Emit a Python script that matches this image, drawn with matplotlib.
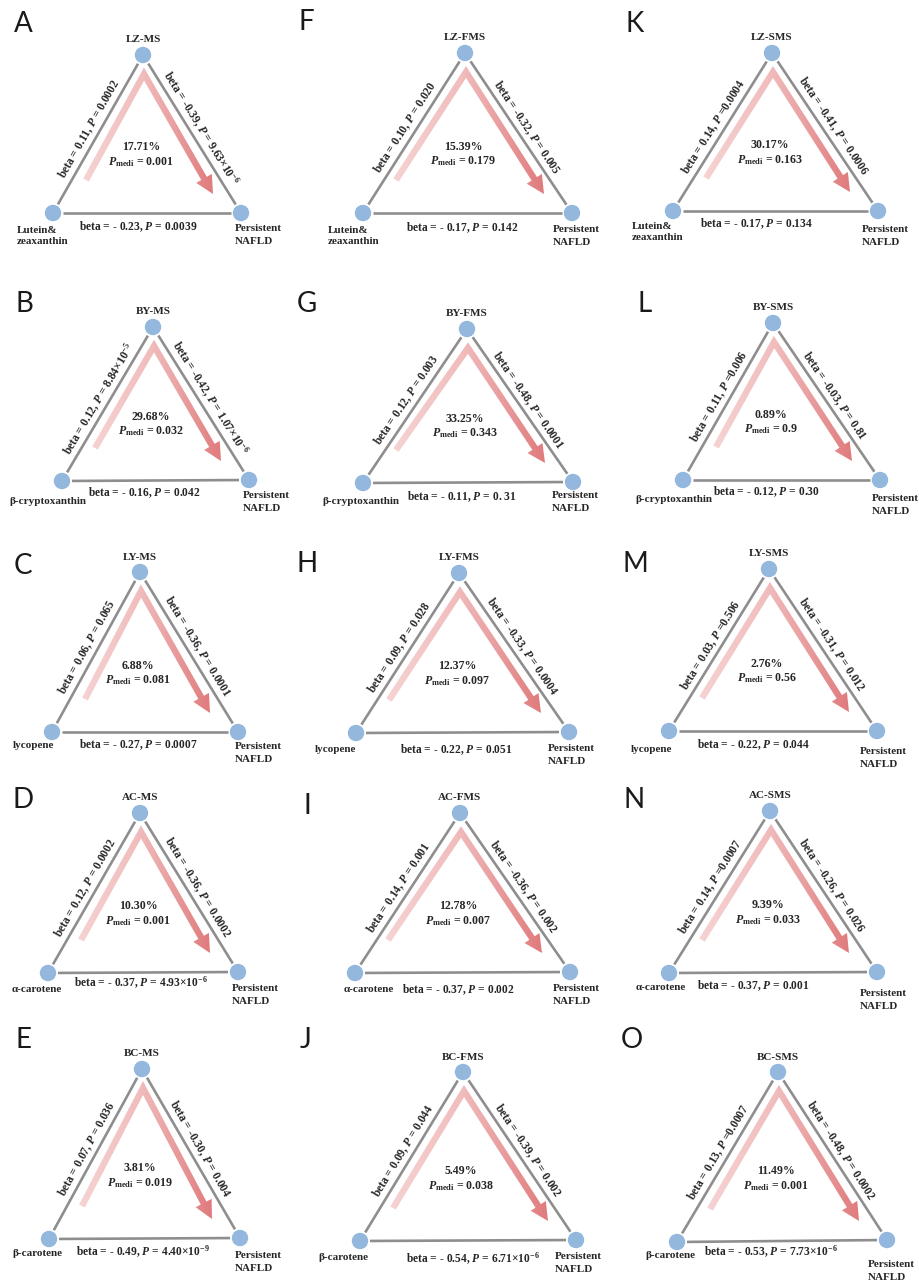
import re
import numpy as np
import matplotlib
matplotlib.use("Agg")
import matplotlib.pyplot as plt
from matplotlib.patches import Circle, Polygon
from matplotlib.colors import LinearSegmentedColormap

plt.rcParams['font.family'] = ['Liberation Serif', 'DejaVu Serif']
plt.rcParams['font.weight'] = 'bold'
plt.rcParams['mathtext.fontset'] = 'custom'
plt.rcParams['mathtext.rm'] = 'Liberation Serif:bold'
plt.rcParams['mathtext.it'] = 'Liberation Serif:italic:bold'
plt.rcParams['mathtext.bf'] = 'Liberation Serif:bold'

# ---------------- data ----------------
panel_letters = list("ABCDEFGHIJKLMNO")
mediators = ["LZ-MS", "BY-MS", "LY-MS", "AC-MS", "BC-MS",
             "LZ-FMS", "BY-FMS", "LY-FMS", "AC-FMS", "BC-FMS",
             "LZ-SMS", "BY-SMS", "LY-SMS", "AC-SMS", "BC-SMS"]
exposures = ["Lutein&\nzeaxanthin", "β-cryptoxanthin", "lycopene", "α-carotene", "β-carotene"] * 3
outcome = "Persistent\nNAFLD"
# exposure -> mediator
a_beta = ["0.11", "0.12", "0.06", "0.12", "0.07",
          "0.10", "0.12", "0.09", "0.14", "0.09",
          "0.14", "0.11", "0.03", "0.14", "0.13"]
a_p = ["= 0.0002", "= 8.84e-5", "= 0.065", "= 0.0002", "= 0.036",
       "= 0.020", "= 0.003", "= 0.028", "= 0.001", "= 0.044",
       "=0.0004", "=0.006", "=0.506", "=0.0007", "=0.0007"]
# mediator -> outcome
b_beta = ["-0.39", "-0.42", "-0.36", "-0.36", "-0.30",
          "-0.32", "-0.48", "-0.33", "-0.36", "-0.39",
          "-0.41", "-0.03", "-0.31", "-0.26", "-0.48"]
b_p = ["9.63e-6", "1.07e-6", "0.0001", "0.0002", "0.004",
       "0.005", "0.0001", "0.0004", "0.002", "0.002",
       "0.0006", "0.81", "0.012", "0.026", "0.0002"]
# exposure -> outcome
c_beta = ["-0.23", "-0.16", "-0.27", "-0.37", "-0.49",
          "-0.17", "-0.11", "-0.22", "-0.37", "-0.54",
          "-0.17", "-0.12", "-0.22", "-0.37", "-0.53"]
c_p = ["0.0039", "0.042", "0.0007", "4.93e-6", "4.40e-9",
       "0.142", "0. 31", "0.051", "0.002", "6.71e-6",
       "0.134", "0.30", "0.044", "0.001", "7.73e-6"]
prop_mediated = ["17.71", "29.68", "6.88", "10.30", "3.81",
                 "15.39", "33.25", "12.37", "12.78", "5.49",
                 "30.17", "0.89", "2.76", "9.39", "11.49"]
p_medi = ["0.001", "0.032", "0.081", "0.001", "0.019",
          "0.179", "0.343", "0.097", "0.007", "0.038",
          "0.163", "0.9", "0.56", "0.033", "0.001"]

# ---------------- layout (pixel coordinates) ----------------
# top node, left node, right node, letter centre, exposure label offset, outcome label offset, bottom label offset
layout = [
    ((143, 55), (53, 213), (241, 213), (23, 22), (-36, 23), (-6, 17), (-9, 14)),
    ((153, 327), (62, 481), (249, 480), (24, 302), (-14, 21), (-6, 17), (-11, 12)),
    ((140, 572), (52, 732), (238, 732), (23, 565), (-19, 13), (-3, 16), (-7, 13)),
    ((140, 813), (48, 973), (238, 972), (23, 798), (-11, 16), (-6, 18), (-2, 10)),
    ((142, 1069), (49, 1239), (240, 1238), (23, 1038), (-12, 15), (-5, 19), (-2, 13)),
    ((465, 53), (363, 213), (572, 213), (306, 21), (-35, 23), (-19, 18), (-5, 15)),
    ((467, 329), (363, 483), (573, 482), (307, 302), (-2, 19), (-21, 15), (-6, 14)),
    ((459, 573), (356, 733), (569, 732), (307, 563), (-21, 17), (-21, 18), (-6, 17)),
    ((460, 813), (355, 973), (570, 972), (307, 804), (14, 17), (-17, 18), (-4, 17)),
    ((463, 1072), (360, 1241), (576, 1240), (306, 1039), (-17, 17), (-21, 18), (5, 18)),
    ((772, 53), (673, 211), (878, 211), (635, 22), (-41, 21), (-16, 20), (-19, 13)),
    ((773, 323), (683, 480), (880, 480), (645, 303), (-9, 19), (-8, 20), (-15, 12)),
    ((769, 569), (669, 731), (877, 731), (635, 563), (-18, 19), (-17, 22), (-20, 14)),
    ((770, 811), (669, 973), (877, 972), (634, 798), (-8, 15), (-17, 23), (-20, 13)),
    ((778, 1072), (677, 1242), (887, 1240), (632, 1039), (-7, 14), (-19, 26), (-11, 11)),
]

W, H = 919, 1287
fig = plt.figure(figsize=(W / 100, H / 100), dpi=100)
ax = fig.add_axes([0, 0, 1, 1])
ax.set_xlim(0, W)
ax.set_ylim(H, 0)
ax.axis('off')

EDGE_C = '#8e8e8e'
NODE_C = '#93b7dd'
TXT_C = '#262626'
FS = 8.3
arrow_cmap = LinearSegmentedColormap.from_list(
    'arr', [(0.0, '#f6d3d3'), (0.45, '#f1bdbd'), (1.0, '#e07a7c')])


def fmt_p(s):
    m = re.match(r'^(=\s*)?(.*)$', s)
    pre = m.group(1) if m.group(1) is not None else '= '
    v = m.group(2)
    if 'e' in v:
        mant, ex = v.split('e')
        v = mant + '×' + r'$\mathrm{10}^{' + str(int(ex)) + '}$'
    return pre + v


def fmt_beta(b):
    return '- ' + b[1:] if b.startswith('-') else b


def unit(v):
    v = np.asarray(v, float)
    return v / np.hypot(*v)


def angle_of(p, q):
    a = ax.transData.transform(p)
    b = ax.transData.transform(q)
    return np.degrees(np.arctan2(b[1] - a[1], b[0] - a[0]))


for i in range(15):
    top, L, R, let_xy, exp_off, out_off, bot_off = layout[i]
    top = np.array(top, float); L = np.array(L, float); R = np.array(R, float)

    # edges
    gap = 10
    for p, q in [(L, top), (top, R), (L, R)]:
        u = unit(q - p)
        a = p + u * gap
        b = q - u * gap
        ax.plot([a[0], b[0]], [a[1], b[1]], color=EDGE_C, lw=1.9,
                solid_capstyle='butt', zorder=2)

    # nodes
    for c in (top, L, R):
        ax.add_patch(Circle(c, 8.2, facecolor=NODE_C, edgecolor='none', zorder=3))

    # gradient arrow
    P0 = L + np.array([33, -33])
    P1 = top + np.array([1, 19])
    tip = R + np.array([-28, -19])
    hw, head_len, head_hw = 3.2, 18.0, 9.0
    d1 = unit(P1 - P0); d2 = unit(tip - P1)
    n1 = np.array([d1[1], -d1[0]]); n2 = np.array([d2[1], -d2[0]])
    m = unit(n1 + n2)
    ml = hw / np.dot(m, n1)
    base = tip - d2 * head_len
    poly = [P0 + n1 * hw, P1 + m * ml, base + n2 * hw, base + n2 * head_hw, tip,
            base - n2 * head_hw, base - n2 * hw, P1 - m * ml, P0 - n1 * hw]
    patch = Polygon(poly, closed=True, facecolor='none', edgecolor='none', zorder=1)
    ax.add_patch(patch)
    xs = np.array([p[0] for p in poly]); ys = np.array([p[1] for p in poly])
    grad = np.linspace(0, 1, 256)[None, :]
    im = ax.imshow(grad, cmap=arrow_cmap, aspect='auto', interpolation='bilinear',
                   extent=(P0[0] - 4, tip[0] + 1, ys.max() + 2, ys.min() - 2), zorder=1)
    im.set_clip_path(patch)

    # panel letter
    ax.text(let_xy[0], let_xy[1] + 9.5, panel_letters[i], fontsize=20, family='Lato',
            fontweight='normal', ha='center', va='baseline', color='#1a1a1a')

    # mediator label
    ax.text(top[0], top[1] - 15, mediators[i], fontsize=8, ha='center', va='center',
            color=TXT_C)

    # exposure label
    if '\n' in exposures[i]:
        ax.text(L[0] + exp_off[0], L[1] + exp_off[1], exposures[i], fontsize=8,
                ha='left', va='center', multialignment='left', linespacing=1.4,
                color=TXT_C)
    else:
        ax.text(L[0] + exp_off[0], L[1] + exp_off[1], exposures[i], fontsize=8,
                ha='center', va='center', color=TXT_C)

    # outcome label
    ax.text(R[0] + out_off[0], R[1] + out_off[1] - 6, outcome, fontsize=8,
            ha='left', va='top', multialignment='left', linespacing=1.6,
            color=TXT_C)

    # edge labels
    for p, q, txt in [(L, top, f"beta = {a_beta[i]}, $P$ {fmt_p(a_p[i])}"),
                      (top, R, f"beta = {b_beta[i]}, $P$ {fmt_p(b_p[i])}")]:
        u = unit(q - p)
        nrm = np.array([u[1], -u[0]])
        mid = (p + q) / 2 + nrm * 10
        ax.text(mid[0], mid[1], txt, fontsize=FS, rotation=angle_of(p, q),
                rotation_mode='anchor', ha='center', va='center', color=TXT_C)

    midb = (L + R) / 2
    ax.text(midb[0] + bot_off[0], midb[1] + bot_off[1],
            f"beta = {fmt_beta(c_beta[i])}, $P$ {fmt_p(c_p[i])}", fontsize=FS,
            ha='center', va='center', color=TXT_C)

    # centre text
    h = (L[1] + R[1]) / 2 - top[1]
    ax.text(top[0] - 2, top[1] + 0.585 * h, f"{prop_mediated[i]}%", fontsize=8.6,
            ha='center', va='center', color=TXT_C)
    ax.text(top[0] - 2, top[1] + 0.675 * h, r"$P_{\mathrm{medi}}$" + f" = {p_medi[i]}",
            fontsize=8.6, ha='center', va='center', color=TXT_C)

ax.set_xlim(0, W)
ax.set_ylim(H, 0)
fig.savefig('out.png', dpi=100, facecolor='white')
